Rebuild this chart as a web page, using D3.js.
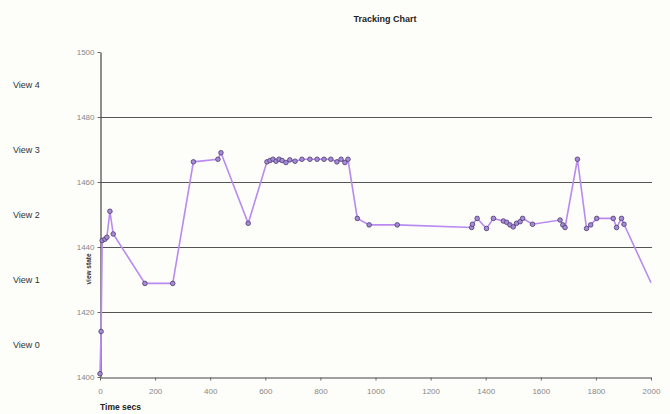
<!DOCTYPE html>
<html>
<head>
<meta charset="utf-8">
<script src="https://d3js.org/d3.v7.min.js"></script>
<style>
  body { margin: 0; background: #fdfdf9; }
  svg { display: block; font-family: "Liberation Sans", Arial, sans-serif; }
</style>
</head>
<body>
<svg width="670" height="414"></svg>
<script>
    // time (secs) and view state readings
    var times = [0, 4, 8, 18, 25, 36, 48, 163, 264, 339, 428, 439, 538, 606, 617, 628, 639, 650, 661, 675, 689,
                 708, 733, 762, 788, 813, 838, 860, 875, 889, 900, 934, 977, 1079, 1349, 1352, 1369, 1403, 1428,
                 1464, 1476, 1488, 1500, 1512, 1525, 1534, 1570, 1670, 1680, 1688, 1733, 1766, 1781, 1803, 1863,
                 1875, 1893, 1902];
    var values = [1401, 1414, 1442, 1442.4, 1443, 1451, 1444, 1428.8, 1428.8, 1466.2, 1467, 1469, 1447.3, 1466.2,
                  1466.6, 1467, 1466.4, 1467, 1466.6, 1466, 1466.8, 1466.4, 1467, 1467, 1467, 1467, 1467, 1466.2,
                  1467, 1466, 1467, 1448.8, 1446.8, 1446.8, 1446, 1447, 1448.8, 1445.7, 1448.8, 1448, 1447.6,
                  1446.8, 1446.2, 1447.3, 1447.8, 1448.8, 1447, 1448.3, 1446.8, 1446, 1467, 1445.7, 1446.8,
                  1448.8, 1448.8, 1446, 1448.8, 1447];
    var endPoint = {t: 2000, v: 1429};   // line continues off the last reading, no marker

    var xTicks = [0, 200, 400, 600, 800, 1000, 1200, 1400, 1600, 1800, 2000];
    var yTicks = [1400, 1420, 1440, 1460, 1480, 1500];
    var viewLabels = ["View 0", "View 1", "View 2", "View 3", "View 4"];
    var viewLevels = [1410, 1430, 1450, 1470, 1490];

    var data = times.map(function(t, i) { return {t: t, v: values[i]}; });

    var svg = d3.select("svg");

    var x = d3.scaleLinear().domain([0, 2000]).range([100, 651]),
        y = d3.scaleLinear().domain([1400, 1500]).range([377, 52]);

    // title
    svg.append("text")
        .attr("x", 385).attr("y", 22)
        .attr("text-anchor", "middle")
        .style("font-size", "9px").style("font-weight", "bold").style("fill", "#222")
        .text("Tracking Chart");

    // gridlines
    svg.append("g").selectAll("line")
        .data(yTicks.filter(function(d) { return d > 1400 && d < 1500; }))
        .enter().append("line")
        .attr("x1", x(0)).attr("x2", x(2000) + 1)
        .attr("y1", function(d) { return y(d) + 0.5; })
        .attr("y2", function(d) { return y(d) + 0.5; })
        .attr("stroke", "#555").attr("stroke-width", 1.2);

    // axes
    var xAxis = d3.axisBottom(x).tickValues(xTicks).tickFormat(d3.format("d")).tickSize(3).tickSizeOuter(0),
        yAxis = d3.axisLeft(y).tickValues(yTicks).tickFormat(d3.format("d")).tickSize(3).tickSizeOuter(0);

    var gx = svg.append("g")
        .attr("transform", "translate(0," + 377.5 + ")")
        .call(xAxis);
    var gy = svg.append("g")
        .attr("transform", "translate(" + 100.5 + ",0)")
        .call(yAxis);

    [gx, gy].forEach(function(g) {
        g.select(".domain").attr("stroke", "#444").attr("stroke-width", 1.2);
        g.selectAll(".tick line").attr("stroke", "#666");
        g.selectAll(".tick text").style("font-size", "8px").style("fill", "#888")
            .style("font-family", "'Liberation Sans', Arial, sans-serif");
    });
    gx.selectAll(".tick text").attr("dy", "1.3em");
    gy.selectAll(".tick text").attr("x", -6);

    // axis titles
    svg.append("text")
        .attr("x", 100).attr("y", 410)
        .style("font-size", "8.5px").style("font-weight", "bold").style("fill", "#222")
        .text("Time secs");

    svg.append("text")
        .attr("transform", "translate(91,269) rotate(-90)")
        .attr("text-anchor", "middle")
        .style("font-size", "6.5px").style("font-weight", "bold").style("fill", "#333")
        .text("view state");

    // view labels
    svg.append("g").selectAll("text")
        .data(viewLabels)
        .enter().append("text")
        .attr("x", 13)
        .attr("y", function(d, i) { return y(viewLevels[i]) + 3; })
        .style("font-size", "9px").style("fill", "#333")
        .text(function(d) { return d; });

    // series line
    var line = d3.line()
        .x(function(d) { return x(d.t); })
        .y(function(d) { return y(d.v); });

    svg.append("path")
        .datum(data.concat([endPoint]))
        .attr("d", line)
        .attr("fill", "none")
        .attr("stroke", "#b98af0")
        .attr("stroke-width", 1.6);

    // markers
    svg.append("g").selectAll("circle")
        .data(data)
        .enter().append("circle")
        .attr("cx", function(d) { return x(d.t); })
        .attr("cy", function(d) { return y(d.v); })
        .attr("r", 2.3)
        .attr("fill", "#a58bd6")
        .attr("stroke", "#4b3a70")
        .attr("stroke-width", 0.8);
</script>
</body>
</html>
